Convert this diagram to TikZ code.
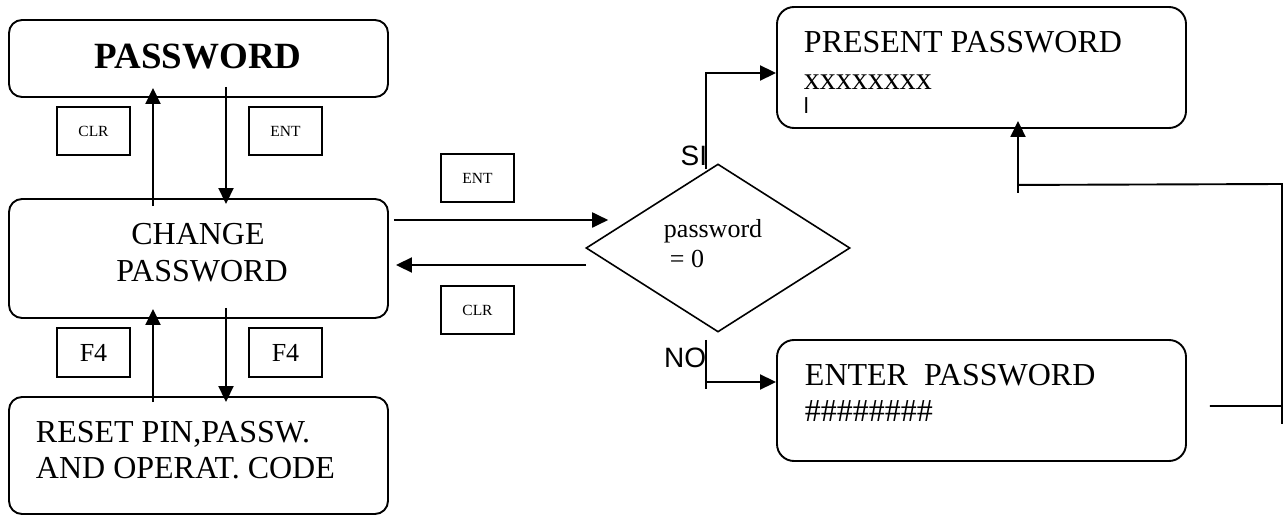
\documentclass[tikz,border=0pt]{standalone}
\usepackage{fontspec}
\setmainfont{Liberation Serif}
\newfontfamily\sansf{Liberation Sans}
\usetikzlibrary{arrows.meta,shapes.geometric,calc}
\newcommand{\fs}[1]{\fontsize{#1}{#1}\selectfont}
\begin{document}
\begin{tikzpicture}[x=1pt,y=-1pt,line width=1.9pt,
  rbox/.style={draw,rounded corners=13pt,inner sep=0pt},
  rboxb/.style={draw,rounded corners=17pt,inner sep=0pt},
  key/.style={draw,line width=1.6pt,inner sep=0pt,minimum width=73pt,minimum height=48pt},
  arr/.style={-{Triangle[length=16pt,width=15pt]}},
  txt/.style={inner sep=0pt,anchor=base west},
  ctxt/.style={inner sep=0pt,anchor=base}]
\useasboundingbox (0,0) rectangle (1288,516);
% boxes
\node[rbox,minimum width=379pt,minimum height=77pt] (pw) at (198.5,58.5) {};
\node[rbox,minimum width=379pt,minimum height=119pt] (cp) at (198.5,258.5) {};
\node[rbox,minimum width=379pt,minimum height=117pt] (rs) at (198.5,455.5) {};
\node[rboxb,minimum width=409pt,minimum height=121pt] (pp) at (981.5,67.5) {};
\node[rboxb,minimum width=409pt,minimum height=121pt] (ep) at (981.5,400.5) {};
\node[draw,diamond,line width=1.6pt,inner sep=0pt,minimum width=264pt,minimum height=168pt] (dm) at (718,248) {};
% key boxes
\node[key] (clr1) at (93.5,131) {\fs{15.5}CLR};
\node[key] (ent1) at (285.5,131) {\fs{15.5}ENT};
\node[key,minimum height=49pt] (f4a) at (93.5,352.5) {\fs{26}F4};
\node[key,minimum height=49pt] (f4b) at (285.5,352.5) {\fs{26}F4};
\node[key] (ent2) at (477.5,178) {\fs{15.5}ENT};
\node[key] (clr2) at (477.5,310) {\fs{15.5}CLR};
% texts
\node[ctxt] (t1) at (198,69) {\fs{37}\bfseries PASSWORD};
\node[ctxt] (t2) at (198,244) {\fs{32}CHANGE};
\node[ctxt] (t3) at (202,281) {\fs{32}PASSWORD};
\node[txt] (t4) at (35,442) {\fs{32}RESET PIN,PASSW.};
\node[txt] (t5) at (35,478) {\fs{32}AND OPERAT. CODE};
\node[txt] (t6) at (803,53) {\fs{32}PRESENT PASSWORD};
\node[txt] (t7) at (803,90) {\fs{32}xxxxxxxx};
\node[txt] (t8) at (803,114) {\fs{22}\sansf l};
\node[txt] (t9) at (804,385) {\fs{32}ENTER\ \ PASSWORD};
\node[txt] (t10) at (804,421) {\fs{32}\#\#\#\#\#\#\#\#};
\node[txt] (t11) at (663,237) {\fs{26}password};
\node[txt] (t12) at (669,267) {\fs{26}= 0};
\node[inner sep=0pt,anchor=base east] (si) at (708,165) {\fs{28}\sansf SI};
\node[inner sep=0pt,anchor=base east] (no) at (707,367) {\fs{28}\sansf NO};
% left column arrows
\draw[arr] ($(cp.north)+(-45.5,8)$) -- ($(pw.south)+(-45.5,-10)$);
\draw[arr] ($(pw.south)+(27.5,-11)$) -- ($(cp.north)+(27.5,6)$);
\draw[arr] ($(rs.north)+(-45.5,6)$) -- ($(cp.south)+(-45.5,-10)$);
\draw[arr] ($(cp.south)+(27.5,-11)$) -- ($(rs.north)+(27.5,6)$);
% ENT / CLR arrows
\draw[arr] ($(cp.east)+(5,-38.5)$) -- ($(dm.west)+(23,-28)$);
\draw[arr] ($(dm.west)+(1,17)$) -- ($(cp.east)+(7,6.5)$);
% SI / NO
\draw[arr] ($(dm.north)+(-12,6)$) |- ($(pp.west)+(0,5.5)$);
\draw[arr] ($(dm.south)+(-12,7)$) |- ($(ep.west)+(0,-18.5)$);
\draw ($(dm.south)+(-12,49)$) -- ($(dm.south)+(-12,56)$);
% loop back
\coordinate (r0) at ($(ep.east)+(23,5.5)$);
\coordinate (r1) at (1282,406);
\coordinate (r2) at (1282,184);
\coordinate (r3) at ($(pp.south)+(36.5,56)$);
\draw[arr] (r0) -- (r1) -- (r2) -- (r3) -- ($(pp.south)+(36.5,-8)$);
\draw (r1) -- ++(0,18);
\draw (r3) -- ++(0,8);
\end{tikzpicture}
\end{document}
